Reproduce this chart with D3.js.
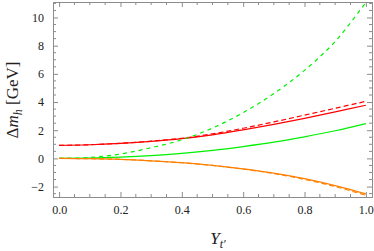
<!DOCTYPE html>
<html>
<head>
<meta charset="utf-8">
<script src="https://cdn.jsdelivr.net/npm/d3@7"></script>
<style>
  body { margin: 0; background: #fff; }
  svg text { font-family: "Liberation Serif", "DejaVu Serif", serif; }
</style>
</head>
<body>
<div id="chart"></div>
<script>
// Yukawa coupling values (x axis)
var yt = [0, 0.1, 0.2, 0.3, 0.4, 0.5, 0.6, 0.7, 0.8, 0.9, 1.0];

// Delta m_h in GeV
var redSolid    = [0.92, 0.97, 1.07, 1.21, 1.40, 1.67, 2.02, 2.41, 2.84, 3.30, 3.77];
var redDashed   = [0.92, 0.97, 1.07, 1.22, 1.43, 1.74, 2.14, 2.59, 3.07, 3.56, 4.05];
var greenSolid  = [0, 0.02, 0.09, 0.20, 0.36, 0.57, 0.84, 1.15, 1.53, 1.96, 2.47];
var greenDashed = [0, 0.07, 0.31, 0.76, 1.32, 2.15, 3.25, 4.60, 6.25, 8.30, 11.07];
var orangeSolid = [0, -0.02, -0.07, -0.17, -0.30, -0.49, -0.74, -1.05, -1.44, -1.93, -2.52];
var orangeDashed= [0, -0.02, -0.07, -0.17, -0.31, -0.50, -0.76, -1.08, -1.49, -2.00, -2.62];

var xTickVals = [0, 0.2, 0.4, 0.6, 0.8, 1.0];
var yTickVals = [-2, 0, 2, 4, 6, 8, 10];

var series = [
  {vals: redSolid, color: "#ff0000", dash: null},
  {vals: greenSolid, color: "#00f000", dash: null},
  {vals: orangeSolid, color: "#ff8000", dash: null},
  {vals: redDashed, color: "#ff0000", dash: "5,3"},
  {vals: greenDashed, color: "#00f000", dash: "4,4"},
  {vals: orangeDashed, color: "#ff8000", dash: "5,3"}
];

var width = 374, height = 251;
var frame = {left: 53, right: 372, top: 2, bottom: 197};

var svg = d3.select("#chart").append("svg")
  .attr("width", width)
  .attr("height", height);

var x = d3.scaleLinear().domain([-0.02, 1.02]).range([frame.left, frame.right]);
var y = d3.scaleLinear().domain([-2.74, 11.1]).range([frame.bottom, frame.top]);

svg.append("clipPath").attr("id", "plotClip")
  .append("rect")
  .attr("x", frame.left).attr("y", frame.top)
  .attr("width", frame.right - frame.left)
  .attr("height", frame.bottom - frame.top);

// curves
var line = d3.line()
  .x(function(d, i){ return x(yt[i]); })
  .y(function(d){ return y(d); })
  .curve(d3.curveCatmullRom.alpha(0.5));

var plot = svg.append("g").attr("clip-path", "url(#plotClip)");
series.forEach(function(s){
  plot.append("path")
    .attr("d", line(s.vals))
    .attr("fill", "none")
    .attr("stroke", s.color)
    .attr("stroke-width", 1.2)
    .attr("stroke-dasharray", s.dash);
});

// frame with ticks on all four sides, pointing inward
var frameColor = "#8c8c8c";
var fmt = function(v){ return v < 0 ? "\u2212" + Math.abs(v) : String(v); };

var xMinor = d3.range(0, 1.0001, 0.05);
var yMinor = d3.range(-2.5, 11.01, 0.5);

function isMajor(v, list){ return list.some(function(t){ return Math.abs(t - v) < 1e-6; }); }

var axBottom = d3.axisBottom(x).tickValues(xTickVals).tickFormat(d3.format(".1f")).tickSize(-5).tickPadding(8);
var axTop = d3.axisTop(x).tickValues(xTickVals).tickFormat("").tickSize(-5);
var axLeft = d3.axisLeft(y).tickValues(yTickVals).tickFormat(fmt).tickSize(-5).tickPadding(9);
var axRight = d3.axisRight(y).tickValues(yTickVals).tickFormat("").tickSize(-5);

var gB = svg.append("g").attr("transform", "translate(0," + frame.bottom + ")").call(axBottom);
var gT = svg.append("g").attr("transform", "translate(0," + frame.top + ")").call(axTop);
var gL = svg.append("g").attr("transform", "translate(" + frame.left + ",0)").call(axLeft);
var gR = svg.append("g").attr("transform", "translate(" + frame.right + ",0)").call(axRight);

[gB, gT, gL, gR].forEach(function(g){
  g.select(".domain").attr("stroke", frameColor).attr("stroke-width", 1);
  g.selectAll(".tick line").attr("stroke", frameColor);
  g.selectAll(".tick text").attr("fill", "#222").style("font-size", "12px")
    .style("font-family", "'Liberation Serif', serif");
});

// minor ticks
var minorX = xMinor.filter(function(v){ return !isMajor(v, xTickVals); });
var minorY = yMinor.filter(function(v){ return !isMajor(v, yTickVals); });

svg.append("g").selectAll("line.mxb").data(minorX).enter().append("line")
  .attr("x1", function(d){ return x(d); }).attr("x2", function(d){ return x(d); })
  .attr("y1", frame.bottom).attr("y2", frame.bottom - 3)
  .attr("stroke", frameColor);
svg.append("g").selectAll("line.mxt").data(minorX).enter().append("line")
  .attr("x1", function(d){ return x(d); }).attr("x2", function(d){ return x(d); })
  .attr("y1", frame.top).attr("y2", frame.top + 3)
  .attr("stroke", frameColor);
svg.append("g").selectAll("line.myl").data(minorY).enter().append("line")
  .attr("y1", function(d){ return y(d); }).attr("y2", function(d){ return y(d); })
  .attr("x1", frame.left).attr("x2", frame.left + 3)
  .attr("stroke", frameColor);
svg.append("g").selectAll("line.myr").data(minorY).enter().append("line")
  .attr("y1", function(d){ return y(d); }).attr("y2", function(d){ return y(d); })
  .attr("x1", frame.right).attr("x2", frame.right - 3)
  .attr("stroke", frameColor);

// axis labels
var xl = svg.append("text")
  .attr("x", 218).attr("y", 244)
  .attr("text-anchor", "middle")
  .attr("fill", "#222")
  .style("font-size", "17px");
xl.append("tspan").style("font-style", "italic").text("Y");
xl.append("tspan").attr("dy", 4).style("font-size", "12px").style("font-style", "italic").text("t\u2032");

var yl = svg.append("text")
  .attr("transform", "translate(18,100) rotate(-90)")
  .attr("text-anchor", "middle")
  .attr("fill", "#222")
  .style("font-size", "17px");
yl.append("tspan").text("\u0394");
yl.append("tspan").style("font-style", "italic").text("m");
yl.append("tspan").attr("dy", 4).style("font-size", "12px").style("font-style", "italic").text("h");
yl.append("tspan").attr("dy", -4).text(" [GeV]");
</script>
</body>
</html>
